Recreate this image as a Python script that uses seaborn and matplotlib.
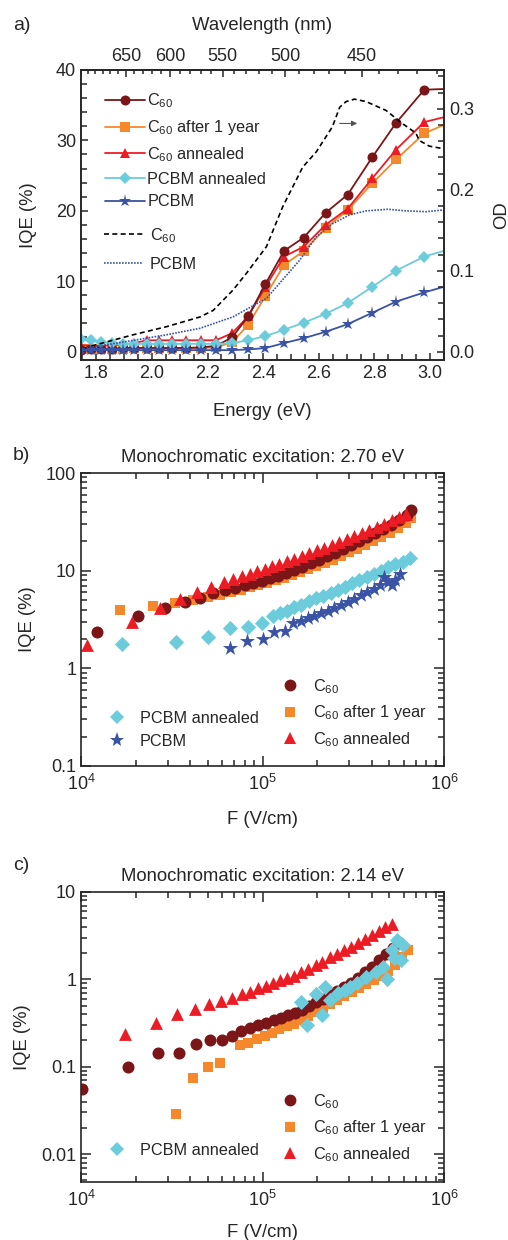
import numpy as np
import pandas as pd
import matplotlib
matplotlib.use("Agg")
import matplotlib.pyplot as plt
from matplotlib.lines import Line2D
from matplotlib.ticker import MultipleLocator, FuncFormatter, LogLocator, NullFormatter, FixedLocator
import seaborn as sns

# ---------------- data: panel a ----------------
E_a = [1.746, 1.781, 1.818, 1.856, 1.896, 1.937, 1.981, 2.026, 2.073, 2.123, 2.175,
       2.230, 2.288, 2.346, 2.408, 2.475, 2.546, 2.624, 2.704, 2.792, 2.878, 2.979, 3.05]
iqe_c60_a = [0.2, 0.3, 0.4, 0.4, 0.5, 0.5, 0.5, 0.5, 0.5, 0.5, 0.6, 0.8, 2.0,
             5.0, 9.6, 14.3, 16.2, 19.7, 22.3, 27.6, 32.5, 37.2, 37.3]
iqe_old_a = [0.3, 0.3, 0.4, 0.4, 0.4, 0.5, 0.5, 0.5, 0.5, 0.5, 0.5, 0.6, 1.3,
             3.8, 7.9, 12.3, 14.3, 17.5, 20.1, 23.9, 27.3, 31.0, 32.2]
iqe_ann_a = [0.9, 0.8, 0.8, 0.9, 1.0, 1.2, 1.6, 1.6, 1.6, 1.6, 1.6, 1.6, 2.6,
             5.0, 9.2, 13.5, 14.9, 18.0, 20.3, 24.6, 28.7, 32.6, 33.3]
iqe_pca_a = [1.8, 1.6, 1.3, 1.2, 1.1, 1.1, 1.1, 1.1, 1.1, 1.1, 1.1, 1.1, 1.2,
             1.6, 2.2, 3.1, 4.1, 5.35, 6.9, 9.2, 11.5, 13.5, 14.3]
iqe_pcb_a = [0.2, 0.2, 0.2, 0.2, 0.2, 0.2, 0.2, 0.2, 0.2, 0.2, 0.2, 0.2, 0.2,
             0.3, 0.5, 1.2, 1.9, 2.8, 3.9, 5.5, 7.1, 8.4, 9.2]

E_abs_c60 = [1.754, 1.814, 1.933, 2.053, 2.173, 2.22, 2.291, 2.34, 2.412, 2.47, 2.542,
             2.591, 2.649, 2.675, 2.698, 2.728, 2.77, 2.842, 2.90, 2.949, 2.961, 2.997, 3.044]
od_c60 = [0.004, 0.010, 0.021, 0.031, 0.043, 0.051, 0.076, 0.097, 0.130, 0.179, 0.228,
          0.247, 0.278, 0.302, 0.309, 0.312, 0.309, 0.298, 0.282, 0.270, 0.261, 0.254, 0.251]
E_abs_pcbm = [1.754, 1.933, 2.053, 2.173, 2.291, 2.412, 2.47, 2.531, 2.591, 2.649,
              2.71, 2.77, 2.848, 2.913, 2.985, 3.044]
od_pcbm = [0.004, 0.014, 0.021, 0.029, 0.043, 0.066, 0.089, 0.113, 0.142, 0.158,
           0.169, 0.174, 0.176, 0.174, 0.173, 0.175]
wl_ticks = [650, 600, 550, 500, 450]

# ---------------- data: panel b (2.70 eV) ----------------
F_c60_b = [1.22e4, 2.05e4, 2.9e4, 3.74e4, 4.52e4, 5.35e4, 6.2e4, 7.05e4, 8.0e4, 8.9e4, 9.9e4,
           1.1e5, 1.22e5, 1.35e5, 1.5e5, 1.66e5, 1.84e5, 2.04e5, 2.26e5, 2.5e5, 2.77e5,
           3.07e5, 3.4e5, 3.77e5, 4.17e5, 4.62e5, 5.12e5, 5.67e5, 6.28e5, 6.6e5]
iqe_c60_b = [2.37, 3.43, 4.18, 4.77, 5.28, 5.85, 6.28, 6.69, 7.14, 7.53, 7.9,
             8.4, 8.9, 9.5, 10.2, 11.0, 11.9, 12.9, 14.0, 15.3, 16.7,
             18.3, 20.0, 22.0, 24.2, 26.7, 29.5, 33.0, 37.5, 41.5]
F_old_b = [1.64e4, 2.5e4, 3.3e4, 4.16e4, 5.0e4, 5.8e4, 6.7e4, 7.6e4, 8.5e4, 9.5e4, 1.06e5,
           1.18e5, 1.31e5, 1.45e5, 1.61e5, 1.79e5, 1.98e5, 2.2e5, 2.44e5, 2.7e5, 3.0e5,
           3.32e5, 3.68e5, 4.08e5, 4.52e5, 5.01e5, 5.55e5, 6.15e5, 6.6e5]
iqe_old_b = [3.92, 4.30, 4.70, 5.0, 5.35, 5.7, 6.05, 6.4, 6.75, 7.1, 7.5,
             7.95, 8.45, 9.0, 9.6, 10.3, 11.1, 12.0, 13.0, 14.1, 15.4,
             16.8, 18.4, 20.2, 22.2, 24.5, 27.1, 31.0, 35.0]
F_ann_b = [1.075e4, 1.9e4, 2.72e4, 3.5e4, 4.38e4, 5.2e4, 6.1e4, 6.9e4, 7.7e4, 8.5e4, 9.35e4,
           1.03e5, 1.13e5, 1.24e5, 1.36e5, 1.5e5, 1.65e5, 1.81e5, 1.99e5, 2.19e5, 2.41e5,
           2.65e5, 2.91e5, 3.2e5, 3.52e5, 3.87e5, 4.26e5, 4.68e5, 5.15e5, 5.66e5, 6.2e5]
iqe_ann_b = [1.75, 3.0, 4.1, 5.1, 6.05, 6.86, 7.65, 8.27, 8.82, 9.3, 9.93,
             10.5, 11.1, 11.8, 12.5, 13.3, 14.2, 15.1, 16.1, 17.2, 18.4,
             19.7, 21.1, 22.6, 24.3, 26.1, 28.1, 30.3, 32.7, 35.3, 38.0]
F_pca_b = [1.68e4, 3.33e4, 5.03e4, 6.6e4, 8.35e4, 9.9e4, 1.14e5, 1.25e5, 1.37e5, 1.5e5,
           1.64e5, 1.8e5, 1.97e5, 2.16e5, 2.37e5, 2.6e5, 2.85e5, 3.12e5, 3.42e5, 3.75e5,
           4.11e5, 4.5e5, 4.93e5, 5.4e5, 5.92e5, 6.5e5]
iqe_pca_b = [1.78, 1.87, 2.08, 2.56, 2.64, 2.93, 3.4, 3.65, 3.9, 4.2,
             4.5, 4.85, 5.2, 5.45, 5.9, 6.35, 6.85, 7.4, 8.0, 8.65,
             9.3, 10.0, 10.8, 11.6, 12.4, 13.4]
F_pcb_b = [6.6e4, 8.2e4, 1.0e5, 1.16e5, 1.33e5, 1.48e5, 1.62e5, 1.77e5, 1.93e5, 2.1e5,
           2.29e5, 2.49e5, 2.71e5, 2.95e5, 3.2e5, 3.48e5, 3.78e5, 4.1e5, 4.45e5, 4.7e5,
           4.9e5, 5.15e5, 5.4e5, 5.7e5]
iqe_pcb_b = [1.6, 1.9, 2.0, 2.38, 2.4, 2.9, 3.05, 3.25, 3.45, 3.65,
             3.9, 4.15, 4.45, 4.8, 5.15, 5.6, 6.0, 6.5, 7.1, 8.6,
             7.6, 7.2, 8.0, 9.3]

# ---------------- data: panel c (2.14 eV) ----------------
F_c60_c = [1.01e4, 1.82e4, 2.64e4, 3.47e4, 4.3e4, 5.13e4, 5.95e4, 6.8e4, 7.66e4, 8.5e4, 9.5e4,
           1.05e5, 1.15e5, 1.26e5, 1.38e5, 1.51e5, 1.65e5, 1.8e5, 1.97e5, 2.15e5, 2.35e5,
           2.57e5, 2.81e5, 3.07e5, 3.35e5, 3.66e5, 4.0e5, 4.37e5, 4.78e5, 5.22e5, 5.6e5]
iqe_c60_c = [0.055, 0.10, 0.145, 0.145, 0.182, 0.20, 0.204, 0.223, 0.258, 0.275, 0.30,
             0.32, 0.34, 0.365, 0.39, 0.41, 0.45, 0.5, 0.55, 0.6, 0.66,
             0.74, 0.82, 0.92, 1.04, 1.2, 1.4, 1.65, 1.95, 2.3, 2.7]
F_old_c = [3.34e4, 4.16e4, 5.03e4, 5.8e4, 7.5e4, 8.35e4, 9.3e4, 1.03e5, 1.13e5, 1.24e5,
           1.36e5, 1.49e5, 1.63e5, 1.79e5, 1.96e5, 2.15e5, 2.36e5, 2.58e5, 2.83e5, 3.1e5,
           3.4e5, 3.73e5, 4.09e5, 4.48e5, 4.91e5, 5.38e5, 5.9e5, 6.35e5]
iqe_old_c = [0.0286, 0.075, 0.10, 0.109, 0.177, 0.187, 0.21, 0.225, 0.245, 0.27,
             0.29, 0.31, 0.34, 0.38, 0.42, 0.47, 0.52, 0.58, 0.65, 0.72,
             0.80, 0.88, 0.98, 1.1, 1.25, 1.45, 1.8, 2.15]
F_ann_c = [1.75e4, 2.59e4, 3.4e4, 4.25e4, 5.07e4, 5.9e4, 6.77e4, 7.68e4, 8.5e4, 9.48e4,
           1.04e5, 1.14e5, 1.25e5, 1.37e5, 1.5e5, 1.64e5, 1.79e5, 1.96e5, 2.14e5, 2.34e5,
           2.56e5, 2.8e5, 3.06e5, 3.34e5, 3.65e5, 3.99e5, 4.36e5, 4.76e5, 5.15e5]
iqe_ann_c = [0.237, 0.318, 0.40, 0.464, 0.52, 0.567, 0.62, 0.68, 0.72, 0.79,
             0.85, 0.91, 0.98, 1.05, 1.09, 1.2, 1.32, 1.45, 1.58, 1.78,
             1.95, 2.15, 2.35, 2.6, 2.9, 3.2, 3.55, 3.95, 4.35]
F_pca_c = [1.64e5, 1.75e5, 1.98e5, 2.14e5, 2.2e5, 2.35e5, 2.6e5, 2.85e5, 3.03e5, 3.3e5,
           3.7e5, 4.2e5, 4.6e5, 4.85e5, 5.15e5, 5.3e5, 5.5e5, 5.8e5, 5.95e5]
iqe_pca_c = [0.55, 0.30, 0.68, 0.39, 0.82, 0.58, 0.70, 0.76, 0.82, 0.92,
             1.07, 1.22, 1.39, 1.0, 2.15, 1.75, 2.8, 1.65, 2.5]

# ---------------- style ----------------
sns.set_theme(style="ticks")
plt.rcParams['font.family'] = ['Liberation Sans', 'DejaVu Sans']
plt.rcParams['mathtext.fontset'] = 'custom'
plt.rcParams['mathtext.rm'] = 'Liberation Sans'
plt.rcParams['mathtext.it'] = 'Liberation Sans:italic'
plt.rcParams['mathtext.default'] = 'regular'
plt.rcParams['axes.linewidth'] = 1.2

C_C60 = '#7b1518'
C_OLD = '#f5882a'
C_ANN = '#ec1c24'
C_PCA = '#6dccdc'
C_PCB = '#3b53a4'
FS_T = 13.0   # tick labels
FS_L = 13.3   # axis labels / titles
FS_G = 11.7   # legends

L_C60 = 'C$_{60}$'
L_OLD = 'C$_{60}$ after 1 year'
L_ANN = 'C$_{60}$ annealed'
L_PCA = 'PCBM annealed'
L_PCB = 'PCBM'

fig = plt.figure(figsize=(5.08, 12.4), dpi=100)
W = 1240.0
def axpos(top, bottom):
    return [81 / 508, 1 - bottom / W, (444 - 81) / 508, (bottom - top) / W]

ax_a = fig.add_axes(axpos(70, 360))
ax_b = fig.add_axes(axpos(473, 766))
ax_c = fig.add_axes(axpos(892, 1182))

# ---------------- panel a ----------------
mk = list(range(len(E_a) - 1))
series_a = [
    (iqe_old_a, C_OLD, 's', 6.5, L_OLD),
    (iqe_ann_a, C_ANN, '^', 7.5, L_ANN),
    (iqe_c60_a, C_C60, 'o', 7.2, L_C60),
    (iqe_pca_a, C_PCA, 'D', 6.3, L_PCA),
    (iqe_pcb_a, C_PCB, '*', 9.5, L_PCB),
]
for y, c, m, ms, lab in series_a:
    sns.lineplot(x=E_a, y=y, ax=ax_a, color=c, marker=m, markersize=ms, markeredgewidth=0,
                 markevery=mk, lw=1.3, sort=False, legend=False)
ax_a.set_xlim(1.745, 3.05)
ax_a.set_ylim(-1.2, 40)
ax_a.xaxis.set_major_locator(MultipleLocator(0.2))
ax_a.xaxis.set_minor_locator(MultipleLocator(0.05))
ax_a.yaxis.set_major_locator(MultipleLocator(10))
ax_a.yaxis.set_minor_locator(MultipleLocator(2))
ax_a.xaxis.set_major_formatter(FuncFormatter(lambda v, p: f'{v:.1f}'))
ax_a.set_xlabel('Energy (eV)', fontsize=FS_L, labelpad=15)
ax_a.set_ylabel('IQE (%)', fontsize=FS_L, labelpad=14)
ax_a.tick_params(which='both', direction='in', labelsize=FS_T, top=False, right=False, width=1.1)
ax_a.tick_params(which='major', length=5)
ax_a.tick_params(which='minor', length=4)

ax2 = ax_a.twinx()
sns.lineplot(x=E_abs_c60, y=od_c60, ax=ax2, color='black', lw=1.2, linestyle=(0, (3, 2)),
             sort=False, legend=False)
sns.lineplot(x=E_abs_pcbm, y=od_pcbm, ax=ax2, color=C_PCB, lw=1.2, linestyle=(0, (1, 0.8)),
             sort=False, legend=False)
ax2.set_ylim(-0.0102, 0.348)
ax2.set_xlim(1.745, 3.05)
ax2.yaxis.set_major_locator(MultipleLocator(0.1))
ax2.yaxis.set_minor_locator(MultipleLocator(0.02))
ax2.yaxis.set_major_formatter(FuncFormatter(lambda v, p: f'{v:.1f}'))
ax2.set_ylabel('OD', fontsize=FS_L, labelpad=14)
ax2.tick_params(which='both', direction='in', labelsize=FS_T, width=1.1)
ax2.tick_params(which='major', length=5)
ax2.tick_params(which='minor', length=4)
ax2.annotate('', xy=(2.748, 0.282), xytext=(2.665, 0.282),
             arrowprops=dict(arrowstyle='-|>', color='#555555', lw=0.8, mutation_scale=8))

sec = ax_a.secondary_xaxis('top', functions=(lambda e: 1239.84 / np.asarray(e, float),
                                              lambda l: 1239.84 / np.asarray(l, float)))
sec.set_xticks(wl_ticks)
sec.xaxis.set_minor_locator(FixedLocator(list(range(410, 720, 10))))
sec.tick_params(which='both', direction='in', labelsize=FS_T, width=1.1)
sec.tick_params(which='major', length=5)
sec.tick_params(which='minor', length=3)
sec.set_xlabel('Wavelength (nm)', fontsize=FS_L, labelpad=13)

h_a = [Line2D([], [], color=C_C60, marker='o', ms=7.2, mew=0, lw=1.3, label=L_C60),
       Line2D([], [], color=C_OLD, marker='s', ms=6.5, mew=0, lw=1.3, label=L_OLD),
       Line2D([], [], color=C_ANN, marker='^', ms=7.5, mew=0, lw=1.3, label=L_ANN),
       Line2D([], [], color=C_PCA, marker='D', ms=6.3, mew=0, lw=1.3, label=L_PCA),
       Line2D([], [], color=C_PCB, marker='*', ms=9.5, mew=0, lw=1.3, label=L_PCB)]
leg1 = ax2.legend(handles=h_a, loc='upper left', bbox_to_anchor=(0.066, 0.925), frameon=False,
                  fontsize=FS_G, handlelength=2.46, handletextpad=0.15, labelspacing=0.48,
                  borderaxespad=0, borderpad=0)
ax2.add_artist(leg1)
h_a2 = [Line2D([], [], color='black', lw=1.2, linestyle=(0, (3, 2)), label=L_C60),
        Line2D([], [], color=C_PCB, lw=1.2, linestyle=(0, (1, 0.8)), label=L_PCB)]
ax2.legend(handles=h_a2, loc='upper left', bbox_to_anchor=(0.063, 0.462), frameon=False,
           fontsize=FS_G, handlelength=2.4, handletextpad=0.43, labelspacing=0.75,
           borderaxespad=0, borderpad=0)

# ---------------- panels b & c ----------------
def style_log(ax, ylo, yhi, title):
    ax.set_xscale('log')
    ax.set_yscale('log')
    ax.set_xlim(1e4, 1e6)
    ax.set_ylim(ylo, yhi)
    ax.yaxis.set_major_locator(LogLocator(base=10, numticks=10))
    ax.yaxis.set_major_formatter(FuncFormatter(lambda v, p: f'{v:g}'))
    ax.yaxis.set_minor_locator(LogLocator(base=10, subs=np.arange(2, 10), numticks=20))
    ax.yaxis.set_minor_formatter(NullFormatter())
    ax.tick_params(which='both', direction='in', labelsize=FS_T, top=True, right=True, width=1.1)
    ax.tick_params(which='major', length=7)
    ax.tick_params(which='minor', length=4)
    ax.tick_params(axis='x', which='major', pad=6)
    ax.set_xlabel('F (V/cm)', fontsize=FS_L, labelpad=12)
    ax.set_ylabel('IQE (%)', fontsize=FS_L, labelpad=7)
    ax.set_title(title, fontsize=FS_L, pad=8)

def sc(ax, x, y, c, m, s):
    sns.scatterplot(x=x, y=y, ax=ax, color=c, marker=m, s=s, linewidth=0, legend=False)

sc(ax_b, F_pca_b, iqe_pca_b, C_PCA, 'D', 60)
sc(ax_b, F_pcb_b, iqe_pcb_b, C_PCB, '*', 130)
sc(ax_b, F_old_b, iqe_old_b, C_OLD, 's', 60)
sc(ax_b, F_c60_b, iqe_c60_b, C_C60, 'o', 75)
sc(ax_b, F_ann_b, iqe_ann_b, C_ANN, '^', 85)
style_log(ax_b, 0.1, 100, 'Monochromatic excitation: 2.70 eV')

sc(ax_c, F_old_c, iqe_old_c, C_OLD, 's', 60)
sc(ax_c, F_c60_c, iqe_c60_c, C_C60, 'o', 75)
sc(ax_c, F_ann_c, iqe_ann_c, C_ANN, '^', 85)
sc(ax_c, F_pca_c, iqe_pca_c, C_PCA, 'D', 60)
style_log(ax_c, 0.0048, 10, 'Monochromatic excitation: 2.14 eV')
ax_c.set_xlabel('F (V/cm)', fontsize=FS_L, labelpad=10)

def mh(c, m, ms, lab):
    return Line2D([], [], color=c, marker=m, ms=ms, mew=0, lw=0, label=lab)

legkw = dict(loc='upper left', frameon=False, fontsize=FS_G, handlelength=1.0,
             handletextpad=0.9, labelspacing=0.47, borderaxespad=0, borderpad=0)
lb1 = ax_b.legend(handles=[mh(C_C60, 'o', 8.5, L_C60), mh(C_OLD, 's', 7.5, L_OLD),
                           mh(C_ANN, '^', 9, L_ANN)], bbox_to_anchor=(0.554, 0.304), **legkw)
ax_b.add_artist(lb1)
ax_b.legend(handles=[mh(C_PCA, 'D', 7.5, L_PCA), mh(C_PCB, '*', 11, L_PCB)],
            bbox_to_anchor=(0.077, 0.188), **legkw)

lc1 = ax_c.legend(handles=[mh(C_C60, 'o', 8.5, L_C60), mh(C_OLD, 's', 7.5, L_OLD),
                           mh(C_ANN, '^', 9, L_ANN)], bbox_to_anchor=(0.554, 0.31), **legkw)
ax_c.add_artist(lc1)
ax_c.legend(handles=[mh(C_PCA, 'D', 7.5, L_PCA)], bbox_to_anchor=(0.077, 0.134), **legkw)

fig.text(13 / 508, 1 - 25 / W, 'a)', fontsize=14, va='center')
fig.text(13 / 508, 1 - 455 / W, 'b)', fontsize=14, va='center')
fig.text(13 / 508, 1 - 865 / W, 'c)', fontsize=14, va='center')

fig.savefig('out.png', dpi=100)
